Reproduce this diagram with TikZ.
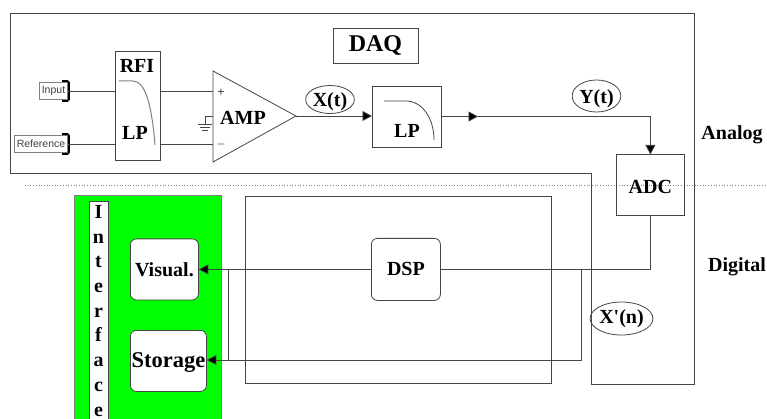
\documentclass[tikz,border=0pt]{standalone}
\usepackage{fontspec}
\setmainfont{Liberation Serif}
\newfontfamily\plainserif{Liberation Serif}
\newfontfamily\labelsans{Liberation Sans}
\usetikzlibrary{arrows.meta,shapes.geometric}
\definecolor{wire}{HTML}{444444}
\definecolor{intgreen}{HTML}{00FF00}
\tikzset{
  x=1pt,y=-1pt,
  box/.style={draw=wire,rectangle,inner sep=0pt,text=black,font=\bfseries\fontsize{20}{22}\selectfont},
  rbox/.style={box,rounded corners=6pt,fill=white},
  sig/.style={draw=wire,ellipse,inner sep=0pt,text=black,font=\bfseries\fontsize{20}{22}\selectfont},
  lab/.style={inner sep=0pt,text=black,font=\bfseries\fontsize{20}{22}\selectfont},
  tag/.style={draw=gray,line width=1pt,rectangle,fill=white,inner sep=0pt,text=black!75,font=\labelsans\fontsize{10.5}{12}\selectfont},
  arr/.style={-{Triangle[length=9.5pt,width=10pt,fill=black]}},
  brk/.style={draw=black,line width=1.6pt,rounded corners=1.5pt},
}
\begin{document}
\begin{tikzpicture}[color=wire,line width=0.8pt]
\useasboundingbox (0,0) rectangle (767,419);
% green panel
\begin{scope}
\clip (0,0) rectangle (767,419);
\path[fill=intgreen,draw=gray] (74,195) rectangle (221,430);
\node[box,fill=white,minimum width=19pt,minimum height=230pt,anchor=north west] (strip) at (89,201.5) {};
\node[lab,anchor=north,align=center,font=\bfseries\fontsize{20}{24.7}\selectfont] (iface) at (98.5,205) {I\\n\\t\\e\\r\\f\\a\\c\\e};
\end{scope}
% outer DAQ outline
\draw (10,13) -- (694,13) -- (694,384) -- (591.5,384) -- (591.5,173) -- (10,173) -- cycle;
% dotted separator
\coordinate (sepL) at (25,185);
\coordinate (sepR) at (767,185);
\draw[dotted,line width=0.7pt,draw=gray] (sepL) -- (sepR);
% DSP frame
\node[box,minimum width=306pt,minimum height=187pt,anchor=north west] (frame) at (245,196) {};
% boxes
\node[box,minimum width=85pt,minimum height=35pt,font=\bfseries\fontsize{24}{26}\selectfont] (daq) at (375.5,45.5) {DAQ};
\node[box,fill=white,minimum width=45pt,minimum height=109pt,anchor=north west,line width=1pt] (rfi) at (115,51) {};
\node[lab] (rfit) at (137,66) {RFI};
\node[lab] (lpt) at (135,132.5) {LP};
\node[box,minimum width=69pt,minimum height=61pt,anchor=north west] (lp) at (372,86.5) {};
\node[lab] (lpb) at (407,131) {LP};
\node[box,minimum width=68pt,minimum height=61pt,anchor=north west,text height=17pt,text depth=0pt] (adc) at (616,154.5) {ADC};
\node[rbox,minimum width=69pt,minimum height=62pt,anchor=north west] (dsp) at (371,238) {DSP};
\node[rbox,minimum width=68pt,minimum height=61pt,anchor=north west,text height=15pt,text depth=0pt] (vis) at (130,238.5) {Visual.};
\node[rbox,minimum width=76pt,minimum height=61pt,anchor=north west,font=\bfseries\fontsize{22.5}{24}\selectfont,text height=13pt,text depth=0pt] (sto) at (130,330) {Storage};
% tags
\node[tag,minimum width=28pt,minimum height=17pt,anchor=north west] (input) at (39,82) {Input};
\node[tag,minimum width=53pt,minimum height=17pt,anchor=north west] (ref) at (14,135) {Reference};
\draw[brk] ([xshift=-6pt,yshift=-10pt]input.east) -- ([xshift=1pt,yshift=-10pt]input.east) -- ([xshift=1pt,yshift=10pt]input.east) -- ([xshift=-6pt,yshift=10pt]input.east);
\draw[brk] ([xshift=-6pt,yshift=-10pt]ref.east) -- ([xshift=1pt,yshift=-10pt]ref.east) -- ([xshift=1pt,yshift=10pt]ref.east) -- ([xshift=-6pt,yshift=10pt]ref.east);
% filter curves
\draw[draw=gray,line width=1pt] (119,81) -- (133,81) .. controls (146,81) and (152,108) .. (155,145);
\draw (384,101) -- (406,101) .. controls (422,101) and (434,118) .. (434,140);
% amplifier
\draw[fill=white] (213,71) -- (296,116) -- (213,162) -- cycle;
\coordinate (ampP) at (213,91);
\coordinate (ampM) at (213,144.5);
\coordinate (ampG) at (213,116);
\coordinate (ampO) at (296,116);
\node[lab] (amp) at (243,117.5) {AMP};
\node[lab,font=\fontsize{13}{14}\selectfont] (plus) at (221,93) {+};
\node[lab,font=\fontsize{13}{14}\selectfont] (minus) at (221,145) {$-$};
% ground
\draw (ampG) -- (205,116) -- (205,124);
\draw (198,124) -- (212,124) (200,127) -- (210,127) (202,130) -- (208,130);
% wires
\draw (input.east) -- (input.east -| rfi.west);
\draw (ref.east) -- (ref.east -| rfi.west);
\draw (rfi.east |- ampP) -- (ampP);
\draw (rfi.east |- ampM) -- (ampM);
% signals
\node[sig,minimum width=46pt,minimum height=28pt,text height=15pt,text depth=0pt] (xt) at (330,99.5) {X(t)};
\node[sig,minimum width=47pt,minimum height=32pt,text height=16pt,text depth=0pt] (yt) at (596.5,96) {Y(t)};
\node[sig,minimum width=55pt,minimum height=33pt] (xn) at (621.5,318.5) {\plainserif\bfseries X'(n)};
\draw[arr] (ampO) -- (ampO -| lp.west);
\coordinate (mid) at (478,116.5);
\draw[arr] (lp.east |- mid) -- (mid);
\draw[arr] (mid) -- (mid -| adc.north) -- (adc.north);
\coordinate (adcD) at (adc.south);
\draw (adcD) -- (adcD |- dsp.east) -- (dsp.east);
\draw[arr] (dsp.west) -- (dsp.west -| vis.east);
\coordinate (busR) at (581,269);
\coordinate (busL) at (228.5,269);
\coordinate (stoY) at (581,360);
\draw[arr] (busR) -- (stoY) -- (stoY -| sto.east);
\draw (busL) -- (busL |- stoY);
% side labels
\node[lab] (analog) at (732,135) {Analog};
\node[lab] (digital) at (737,266.5) {Digital};
\end{tikzpicture}
\end{document}
